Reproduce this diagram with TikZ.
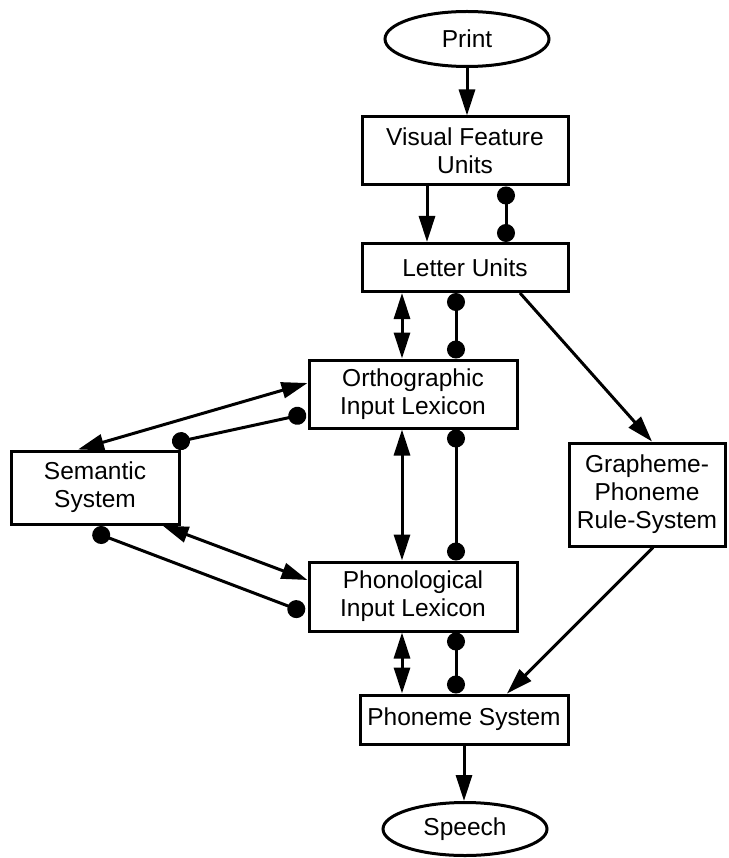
\documentclass[tikz,border=0pt]{standalone}
\usepackage{fontspec}
\setmainfont{Liberation Sans}
\usetikzlibrary{arrows.meta,shapes.geometric}
\begin{document}
\begin{tikzpicture}[x=1pt,y=-1pt,
  line width=3pt,
  box/.style={draw,rectangle,inner sep=0pt,align=center,font=\fontsize{24.5}{28}\selectfont},
  oval/.style={draw,ellipse,inner sep=0pt,align=center,font=\fontsize{24.5}{28}\selectfont},
  arr/.style={-{Triangle[length=26pt,width=16pt]}},
  dbl/.style={{Triangle[length=26pt,width=16pt]}-{Triangle[length=26pt,width=16pt]}},
  dots/.style={{Circle[length=18pt]}-{Circle[length=18pt]}}]
\useasboundingbox (0,0) rectangle (728,858);
\node[oval,minimum width=164pt,minimum height=55pt] (print) at (467,39) {Print};
\node[box,minimum width=206pt,minimum height=68pt] (vfu) at (465,151) {Visual Feature\\Units};
\node[box,minimum width=206pt,minimum height=48pt] (lu) at (465,267.5) {Letter Units};
\node[box,minimum width=208pt,minimum height=68pt] (oil) at (413,394) {Orthographic\\Input Lexicon};
\node[box,minimum width=168pt,minimum height=73pt] (sem) at (95,487.5) {Semantic\\System};
\node[box,minimum width=156pt,minimum height=103pt] (gpr) at (647,494.5) {Grapheme-\\Phoneme\\Rule-System};
\node[box,minimum width=208pt,minimum height=69pt] (pil) at (413,596.5) {Phonological\\Input Lexicon};
\node[box,minimum width=208pt,minimum height=49pt] (ps) at (464,719.5) {Phoneme System};
\node[oval,minimum width=164pt,minimum height=53pt] (speech) at (465,829) {Speech};

\draw[arr] (print.south) -- (print.south |- vfu.north);
\draw[arr] ([xshift=-38pt]vfu.south) -- ([xshift=-38pt]lu.north);
\draw[dots] ([xshift=41pt]vfu.south) -- ([xshift=41pt]lu.north);
\draw[dbl] ([xshift=-63pt]lu.south) -- ([xshift=-11pt]oil.north);
\draw[dots] ([xshift=-9pt]lu.south) -- ([xshift=43pt]oil.north);
\draw[arr] ([xshift=55pt]lu.south) -- ([xshift=5pt]gpr.north);
\draw[dbl] ([xshift=-11pt]oil.south) -- ([xshift=-11pt]pil.north);
\draw[dots] ([xshift=43pt]oil.south) -- ([xshift=43pt]pil.north);
\draw[dbl] ([xshift=-11pt]pil.south) -- ([xshift=-62pt]ps.north);
\draw[dots] ([xshift=43pt]pil.south) -- ([xshift=-8pt]ps.north);
\draw[arr] ([xshift=6pt]gpr.south) -- ([xshift=43pt]ps.north);
\draw[arr] (ps.south) -- (ps.south |- speech.north);
\draw[dbl] ([xshift=-17pt]sem.north) -- ([yshift=11pt]oil.west);
\draw[dots] ([xshift=-8.3pt,yshift=6.5pt]sem.north east) -- ([xshift=-1.4pt,yshift=-19.9pt]oil.west);
\draw[dbl] ([xshift=-18pt]sem.south east) -- ([yshift=16.5pt]pil.west);
\draw[dots] ([xshift=-2.2pt,yshift=-6.3pt]sem.south) -- ([xshift=-2.8pt,yshift=-15.8pt]pil.west);
\end{tikzpicture}
\end{document}
